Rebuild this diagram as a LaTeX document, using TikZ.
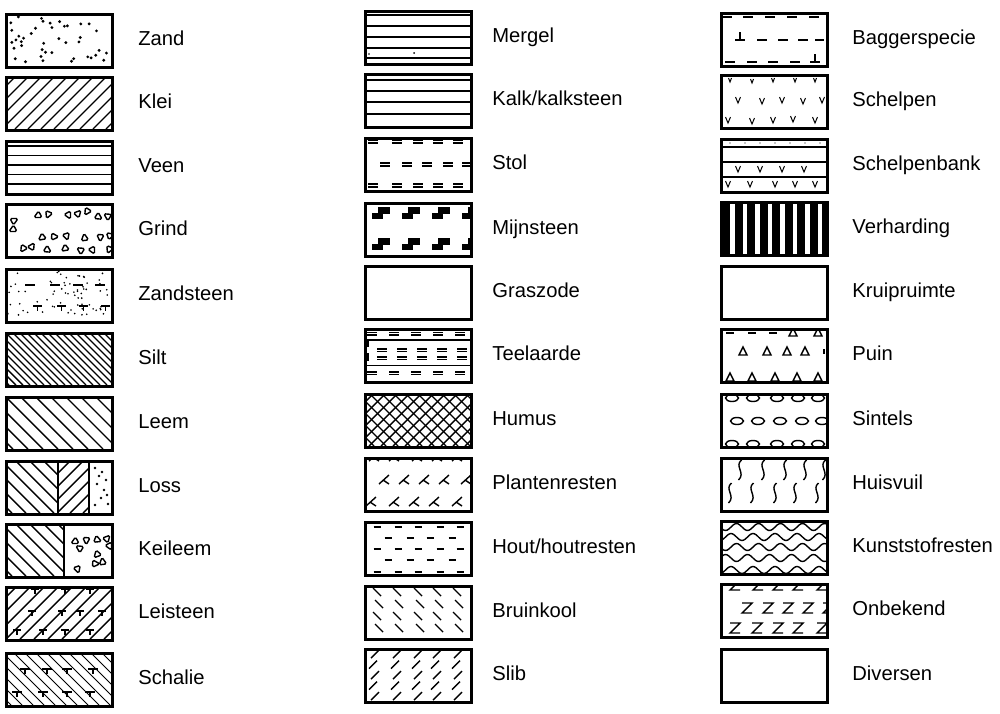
\documentclass[tikz,border=0pt]{standalone}
\usepackage{fontspec}
\setmainfont{Liberation Sans}
\tikzset{
  box/.style={draw, line width=1.3pt, minimum width=53pt, minimum height=26.5pt, inner sep=0pt, anchor=north west},
  pat/.style={line width=0.7pt},
  thinpat/.style={line width=0.5pt},
  lbl/.style={anchor=base west, inner sep=0pt, font=\fontsize{10.1}{12}\selectfont},
}
\newcommand{\legitem}[6]{%
  \begin{scope}[shift={(#2,#3)}]
    \begin{scope}
      \clip (0,0) rectangle (106,53);
      #6
    \end{scope}
    \node[box] (#1) at (0,0) {};
    \node[lbl] (#1-txt) at (#5,32) {#4};
  \end{scope}}
\newcommand{\pebble}[3]{\draw[pat, rounded corners=0.8pt, rotate around={#3:(#1,#2)}] (#1-4,#2+2.5) -- (#1+4,#2+2.5) -- (#1+0.5,#2-4) -- cycle;}
\begin{document}
\begin{tikzpicture}[x=0.5pt,y=-0.5pt]
\useasboundingbox (0,0) rectangle (1000,713);
% ---------------- column 1 ----------------
\legitem{zand}{5}{13}{Zand}{133}{%
  \pgfmathsetseed{7}
  \foreach \i in {1,...,42} \fill ({3+rnd*100},{3+rnd*47}) circle (1.6);}
\legitem{klei}{5}{76}{Klei}{133}{%
  \foreach \x in {-55,-42,...,110} \draw[pat] (\x,53) -- ++(53,-53);}
\legitem{veen}{5}{140}{Veen}{133}{%
  \foreach \y in {6,15.5,25,34.5,44} \draw[pat] (0,\y) -- (106,\y);}
\legitem{grind}{5}{203}{Grind}{133}{%
  \foreach \x/\y/\a in {33/12/0, 43/11/40, 63/12/90, 73/11/200, 82/8/30, 93/14/120, 103/13/300, 37/34/10, 49/34/150, 61/33/80, 80/35/250, 95/34/60, 105/33/170, 18/45/30, 27/44/210, 42/47/120, 60/45/10, 76/47/300, 87/47/90, 104/46/40, 8/26/0, 9/18/180}
    {\pebble{\x}{\y}{\a}}}
\legitem{zandsteen}{5}{268}{Zandsteen}{133}{%
  \pgfmathsetseed{21}
  \foreach \i in {1,...,70} \fill ({2+rnd*102},{2+rnd*49}) circle (0.9);
  \foreach \x in {20,45,68,90} \draw[pat] (\x,17) -- ++(10,0);
  \foreach \x in {28,52,74,96} \draw[pat] (\x,38) -- ++(9,0) (\x+4.5,38) -- ++(0,5);}
\legitem{silt}{5}{332}{Silt}{133}{%
  \foreach \x in {-56,-49,...,110} \draw[pat] (\x,0) -- ++(53,53);}
\legitem{leem}{5}{396}{Leem}{133}{%
  \foreach \x in {-60,-45,...,110} \draw[pat] (\x,0) -- ++(53,53);}
\legitem{loss}{5}{460}{Loss}{133}{%
  \begin{scope}\clip (0,0) rectangle (53,53);
    \foreach \x in {-60,-46,...,60} \draw[pat] (\x,0) -- ++(53,53);\end{scope}
  \begin{scope}\clip (53,0) rectangle (84,53);
    \foreach \x in {0,13,...,140} \draw[pat] (\x,53) -- ++(53,-53);\end{scope}
  \foreach \x/\y in {90/8, 97/12, 101/20, 92/24, 99/30, 96/38, 103/44, 90/45, 94/16, 102/35}
    \fill (\x,\y) circle (1.3);
  \draw[line width=1pt] (53,0) -- (53,53) (84,0) -- (84,53);}
\legitem{keileem}{5}{523}{Keileem}{133}{%
  \begin{scope}\clip (0,0) rectangle (59,53);
    \foreach \x in {-60,-46,...,60} \draw[pat] (\x,0) -- ++(53,53);\end{scope}
  \foreach \x/\y/\a in {70/18/0, 81/17/60, 92/17/130, 102/16/200, 104/23/90, 75/25/300, 92/31/20, 90/41/150, 98/39/250, 72/46/80}
    {\pebble{\x}{\y}{\a}}
  \draw[line width=1pt] (59,0) -- (59,53);}
\legitem{leisteen}{5}{586}{Leisteen}{133}{%
  \foreach \x in {-55,-41,...,110} \draw[pat] (\x,53) -- ++(53,-53);
  \foreach \x/\y in {30/3, 60/3, 85/3, 27/25, 57/25, 75/25, 97/25, 12/44, 38/44, 60/44, 85/44}
    \draw[pat] (\x-4,\y) -- (\x+4,\y) (\x,\y) -- (\x,\y+5);}
\legitem{schalie}{5}{652}{Schalie}{133}{%
  \foreach \x in {-58,-47,...,110} \draw[thinpat] (\x,0) -- ++(53,53);
  \foreach \x/\y in {20/17, 42/17, 62/17, 88/17, 12/40, 38/40, 62/40, 85/40}
    \draw[pat] (\x-5,\y) -- (\x+5,\y) (\x,\y) -- (\x,\y+5);}
% ---------------- column 2 ----------------
\legitem{mergel}{364}{10}{Mergel}{128}{%
  \foreach \y in {5,16,27,38,48} \draw[pat] (0,\y) -- (106,\y);
  \fill (50,43) circle (1) (5,44) circle (0.8);}
\legitem{kalk}{364}{73}{Kalk/kalksteen}{128}{%
  \foreach \y in {7,18,29,41} \draw[pat] (0,\y) -- (106,\y);}
\legitem{stol}{364}{137}{Stol}{128}{%
  \foreach \x in {9,33,54,74,94} \draw[pat] (\x-5,3) -- ++(10,0) (\x-5,6) -- ++(10,0) (\x-5,47) -- ++(10,0) (\x-5,50) -- ++(10,0);
  \foreach \x in {21,43,63,84,103} \draw[pat] (\x-5,26) -- ++(10,0) (\x-5,29) -- ++(10,0);}
\legitem{mijnsteen}{364}{202}{Mijnsteen}{128}{%
  \foreach \x in {8,38,68,98} \foreach \y in {5,36} {
    \fill (\x+6,\y) rectangle ++(12,6.5);
    \fill (\x,\y+5.5) rectangle ++(11,6.5);}}
\legitem{graszode}{364}{265}{Graszode}{128}{}
\legitem{teelaarde}{364}{328}{Teelaarde}{128}{%
  \foreach \x in {8,30,52,74,96} \draw[pat] (\x-5,4.5) -- ++(10,0) (\x-5,7) -- ++(10,0);
  \draw[pat] (4,19) -- (4,12) -- (106,12);
  \foreach \x in {18,38,58,78,98} \draw[pat] (\x-5,21) -- ++(10,0) (\x-5,23.5) -- ++(10,0) (\x-5,29) -- ++(10,0) (\x-5,31.5) -- ++(10,0);
  \draw[pat] (4,25) -- (4,33);
  \draw[thinpat] (0,37) -- (106,37);
  \foreach \x in {8,30,52,74,96} \draw[pat] (\x-5,44) -- ++(10,0) (\x-5,46.5) -- ++(10,0);}
\legitem{humus}{364}{393}{Humus}{128}{%
  \foreach \x in {-55,-43,...,110} {\draw[pat] (\x,0) -- ++(53,53); \draw[pat] (\x,53) -- ++(53,-53);}}
\legitem{plantenresten}{364}{457}{Plantenresten}{128}{%
  \foreach \x/\y in {11/0, 31/0, 54/0, 74/0, 94/0, 21/23, 41/23, 61/23, 81/23, 103/23, 8/45, 31/45, 51/45, 71/45, 94/45}
    \draw[pat] (\x-6,\y+4) -- (\x+4,\y-5) (\x-2,\y) -- (\x+4,\y+4);}
\legitem{hout}{364}{521}{Hout/houtresten}{128}{%
  \foreach \y in {6,28,51} \foreach \x in {13,34,54,76,96} \draw[pat] (\x-3.5,\y) -- ++(7,0);
  \foreach \y in {17,39} \foreach \x in {24,46,66,88} \draw[pat] (\x-3.5,\y) -- ++(7,0);}
\legitem{bruinkool}{364}{585}{Bruinkool}{128}{%
  \foreach \y/\o in {7/0,19/2,31/0,43/2} \foreach \x in {13,33,54,73,93} \draw[pat] (\x+\o-4,\y-4) -- (\x+\o+4,\y+4);}
\legitem{slib}{364}{648}{Slib}{128}{%
  \foreach \y/\o in {6/0,16.5/-2,27/0,37.5/-2,48/0} \foreach \x in {11,33,54,73,94} \draw[pat] (\x+\o-4,\y+4) -- (\x+\o+4,\y-4);}
% ---------------- column 3 ----------------
\legitem{bagger}{720}{12}{Baggerspecie}{132}{%
  \foreach \x in {2,23,45,67,89} \draw[pat] (\x,5) -- ++(10,0);
  \foreach \x in {15,37,58,78} \draw[pat] (\x,28) -- ++(10,0);
  \draw[pat] (95,28) -- (104,28) (20,28) -- (20,20);
  \foreach \x in {5,27,48,70,90} \draw[pat] (\x,50) -- ++(10,0);
  \draw[pat] (95,50) -- (95,42);}
\legitem{schelpen}{720}{74}{Schelpen}{132}{%
  \foreach \x/\y in {10/6, 32/7, 53/6, 75/6, 95/6} \draw[thinpat] (\x-1.5,\y-2) -- (\x,\y+2) -- (\x+1.5,\y-2);
  \foreach \x/\y in {18/26, 42/27, 62/26, 83/27, 102/26, 8/46, 32/47, 53/46, 73/45, 95/46}
    \draw[thinpat] (\x-2.5,\y-3) -- (\x,\y+3) -- (\x+2.5,\y-3);}
\legitem{schelpenbank}{720}{138}{Schelpenbank}{132}{%
  \foreach \y in {9,24,39} \draw[pat] (0,\y) -- (106,\y);
  \foreach \x in {10,25,40,55,70,85,100} \fill (\x,5) circle (0.6);
  \foreach \x/\y in {18/31, 40/31, 62/31, 84/31, 8/46, 30/46, 55/46, 75/46, 95/46}
    \draw[thinpat] (\x-2.5,\y-3) -- (\x,\y+3) -- (\x+2.5,\y-3);}
\legitem{verharding}{720}{201}{Verharding}{132}{%
  \fill (0,0) rectangle (106,53);
  \foreach \k in {0,...,7} \fill[white] ({10+12.5*\k},0) rectangle ++(4.5,53);}
\legitem{kruipruimte}{720}{265}{Kruipruimte}{132}{}
\legitem{puin}{720}{328}{Puin}{132}{%
  \foreach \x in {10,32,53} \draw[pat] (\x-4,5) -- (\x+4,5);
  \foreach \x/\y in {73/4, 98/4, 23/23, 47/23, 67/23, 85/23, 10/49, 32/49, 55/49, 77/49, 98/49}
    \draw[pat] (\x-4,\y+4) -- (\x+4,\y+4) -- (\x,\y-4) -- cycle;
  \draw[pat] (104,21) -- (104,26);}
\legitem{sintels}{720}{393}{Sintels}{132}{%
  \foreach \x in {12,33,57,78,98} {\draw[pat] (\x,5) ellipse (6.5 and 3.5); \draw[pat] (\x,51) ellipse (6.5 and 3.5);}
  \foreach \x in {17,38,60,82,102} \draw[pat] (\x,28) ellipse (6.5 and 3.5);}
\legitem{huisvuil}{720}{457}{Huisvuil}{132}{%
  \foreach \x/\y in {20/3, 43/3, 65/3, 85/3, 104/3, 10/26, 32/26, 55/26, 75/26, 97/26}
    \draw[pat] (\x+1.5,\y) .. controls (\x-6,\y+6) and (\x+6,\y+13) .. (\x-1.5,\y+20);}
\legitem{kunststof}{720}{520}{Kunststofresten}{132}{%
  \foreach \y/\p in {7/0, 17/90, 27/0, 38/180, 50/90}
    \draw[pat] plot[domain=0:106, samples=60, smooth] (\x,{\y+3.5*sin(16.3636*\x+\p)});}
\legitem{onbekend}{720}{583}{Onbekend}{132}{%
  \foreach \x/\y in {15/2, 38/2, 58/2, 78/2, 102/2, 27/25, 48/25, 68/25, 88/25, 108/25, 15/45, 37/45, 58/45, 78/45, 102/45}
    \draw[pat] (\x-5,\y-5) -- (\x+5,\y-5) -- (\x-5,\y+5) -- (\x+5,\y+5);}
\legitem{diversen}{720}{648}{Diversen}{132}{}
\end{tikzpicture}
\end{document}
